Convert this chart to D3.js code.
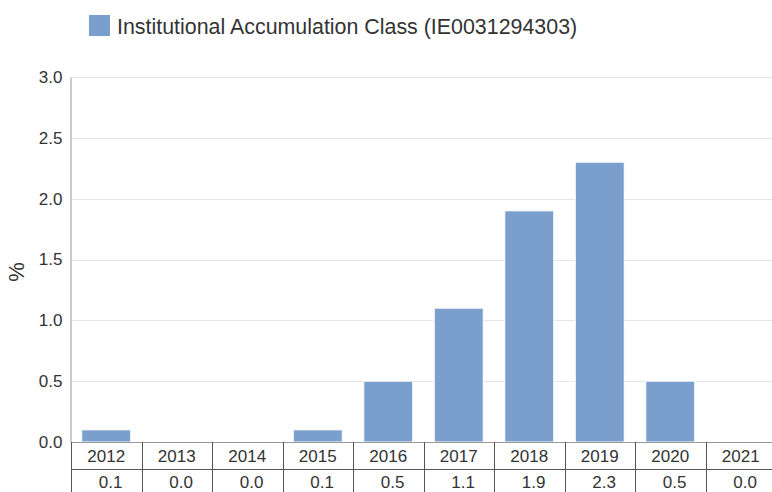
<!DOCTYPE html>
<html><head><meta charset="utf-8">
<script src="https://cdn.jsdelivr.net/npm/d3@7"></script>
<style>body{margin:0;background:#fff;}svg{display:block;font-family:"Liberation Sans",Arial,sans-serif;}</style>
</head><body>
<svg id="c" width="772" height="492"></svg>
<script>
const categories = ["2012","2013","2014","2015","2016","2017","2018","2019","2020","2021"];
const values = [0.1,0.0,0.0,0.1,0.5,1.1,1.9,2.3,0.5,0.0];
const yTicks = [0,0.5,1.0,1.5,2.0,2.5,3.0];
const seriesName = "Institutional Accumulation Class (IE0031294303)";

(function(){
const svg = d3.select("#c");
const pL = 71, pR = 776, pT = 77, pB = 442;
const x = d3.scaleBand().domain(categories).range([pL, pR]).paddingInner(0.305).paddingOuter(0.1525);
const xc = d3.scaleBand().domain(categories).range([pL, pR]);
const y = d3.scaleLinear().domain([0,3]).range([pB, pT]);
const barColor = "#7a9fcc";
const txt = "#333";

// legend
svg.append("rect").attr("x",89).attr("y",15).attr("width",21).attr("height",21).attr("fill",barColor);
svg.append("text").attr("x",117).attr("y",34).attr("font-size",21.4).attr("fill",txt).text(seriesName);

// grid
svg.append("g").selectAll("line").data(yTicks.filter(d=>d>0)).join("line")
  .attr("x1",pL).attr("x2",pR).attr("y1",d=>Math.round(y(d))+0.5).attr("y2",d=>Math.round(y(d))+0.5)
  .attr("stroke","#e5e5e5");

// y axis
const ya = svg.append("g").attr("transform",`translate(${pL-0.5},0)`)
  .call(d3.axisLeft(y).tickValues(yTicks).tickFormat(d3.format(".1f")).tickSize(0).tickPadding(8));
ya.select(".domain").attr("stroke","#999");
ya.selectAll("text").attr("font-size",17).attr("fill",txt).attr("font-family","Liberation Sans, Arial, sans-serif");

svg.append("text").attr("transform","translate(24,272) rotate(-90)").attr("text-anchor","middle")
  .attr("font-size",22).attr("fill",txt).text("%");

// bars
svg.append("g").selectAll("rect").data(categories).join("rect")
  .attr("x",d=>x(d)).attr("width",x.bandwidth())
  .attr("y",(d,i)=>y(values[i])).attr("height",(d,i)=>pB-y(values[i]))
  .attr("fill",barColor).attr("stroke","#fff").attr("stroke-width",1);

// table
const tb = svg.append("g");
tb.append("line").attr("x1",pL).attr("x2",pR).attr("y1",pB+0.5).attr("y2",pB+0.5).attr("stroke","#999");
tb.append("line").attr("x1",pL).attr("x2",pR).attr("y1",469.5).attr("y2",469.5).attr("stroke","#555");
tb.selectAll("line.v").data(categories).join("line").attr("class","v")
  .attr("x1",d=>Math.round(xc(d))+0.5).attr("x2",d=>Math.round(xc(d))+0.5)
  .attr("y1",pB).attr("y2",492).attr("stroke","#555");
tb.selectAll("text.yr").data(categories).join("text").attr("class","yr")
  .attr("x",d=>xc(d)+xc.bandwidth()/2).attr("y",462).attr("text-anchor","middle")
  .attr("font-size",17).attr("fill",txt).text(d=>d);
tb.selectAll("text.val").data(categories).join("text").attr("class","val")
  .attr("x",d=>xc(d)+xc.bandwidth()-19).attr("y",488).attr("text-anchor","end")
  .attr("font-size",17).attr("fill",txt).text((d,i)=>values[i].toFixed(1));
})();
</script>
</body></html>
